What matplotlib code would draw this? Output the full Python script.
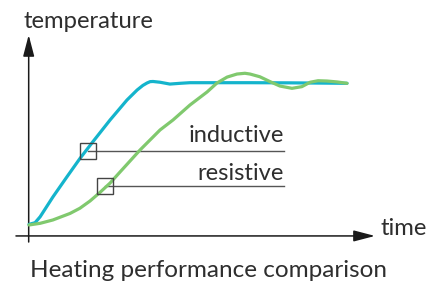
import matplotlib
matplotlib.use('Agg')
import matplotlib.pyplot as plt

# curve data (time 0..100, temperature plateau = 100)
t_inductive = [0, 1.9, 3.5, 7.5, 11.9, 16.0, 20.1, 25.5, 30.8, 34.0, 35.8, 37.1, 38.1,
               39.0, 41.2, 44.3, 47.5, 50.6, 56.0, 69.5, 82.1, 100]
temp_inductive = [7.0, 8.1, 12.0, 25.0, 38.2, 50.3, 61.4, 75.7, 88.8, 95.4, 98.4, 100,
                  100.9, 101.0, 100.5, 99.3, 99.8, 100.2, 100.2, 100.2, 100.1, 99.8]

t_resistive = [0, 3.5, 7.5, 12.9, 16.0, 19.2, 22.3, 25.5, 28.6, 34.9, 41.2, 45.3, 50.6,
               56.0, 59.1, 62.3, 65.4, 67.9, 69.5, 72.6, 75.8, 78.9, 82.7, 85.8, 88.4,
               90.9, 93.7, 96.9, 100]
temp_resistive = [6.6, 7.7, 9.9, 14.2, 17.6, 22.4, 28.0, 34.2, 41.4, 55.9, 69.1, 75.7, 85.5,
                  94.1, 100, 103.9, 105.9, 106.4, 105.9, 104.1, 100.9, 98.0, 96.5, 97.6,
                  100.5, 101.5, 101.3, 100.7, 99.8]

labels = ['inductive', 'resistive']
marker_t = [18.6, 24.0]
marker_temp = [55.6, 32.2]
label_end = 80.2
label_temp = [61.4, 36.2]

blue = '#14b4cc'
green = '#80c96e'
ink = '#2e2e2e'

plt.rcParams['font.family'] = ['Lato', 'DejaVu Sans']

fig = plt.figure(figsize=(4.44, 2.82), dpi=100)
ax = fig.add_axes([0, 0, 1, 1])
ax.set_xlim(-9.12, 130.5)
ax.set_ylim(-30.9, 154.6)
ax.axis('off')

# axes with arrows
arrow = dict(arrowstyle='-|>,head_length=0.65,head_width=0.17', mutation_scale=20,
             lw=1.1, color='#1a1a1a', shrinkA=0, shrinkB=0)
ax.annotate('', xy=(108.8, -0.6), xytext=(-4.1, -0.6), arrowprops=arrow)
ax.annotate('', xy=(-0.1, 131.6), xytext=(-0.1, -4.6), arrowprops=arrow)

ax.plot(t_inductive, temp_inductive, color=blue, lw=2.3, solid_capstyle='round',
        solid_joinstyle='round', zorder=3)
ax.plot(t_resistive, temp_resistive, color=green, lw=2.3, solid_capstyle='round',
        solid_joinstyle='round', zorder=3)

# leader lines and boxes
for name, mt, mtemp, lt in zip(labels, marker_t, marker_temp, label_temp):
    ax.plot([mt, label_end], [mtemp, mtemp], color='#555555', lw=1.0, zorder=2)
    ax.plot([mt], [mtemp], marker='s', ms=11.5, mfc='none', mec='#444444', mew=1.0, zorder=4)
    ax.text(label_end, lt, name, ha='right', va='baseline', fontsize=17, color=ink)

ax.text(-1.6, 136.4, 'temperature', ha='left', va='baseline', fontsize=17.2, color=ink)
ax.text(110.4, -0.3, 'time', ha='left', va='baseline', fontsize=17.2, color=ink)
ax.text(0.3, -27.8, 'Heating performance comparison', ha='left', va='baseline',
        fontsize=17.5, color=ink)

fig.savefig('out.png', dpi=100)
